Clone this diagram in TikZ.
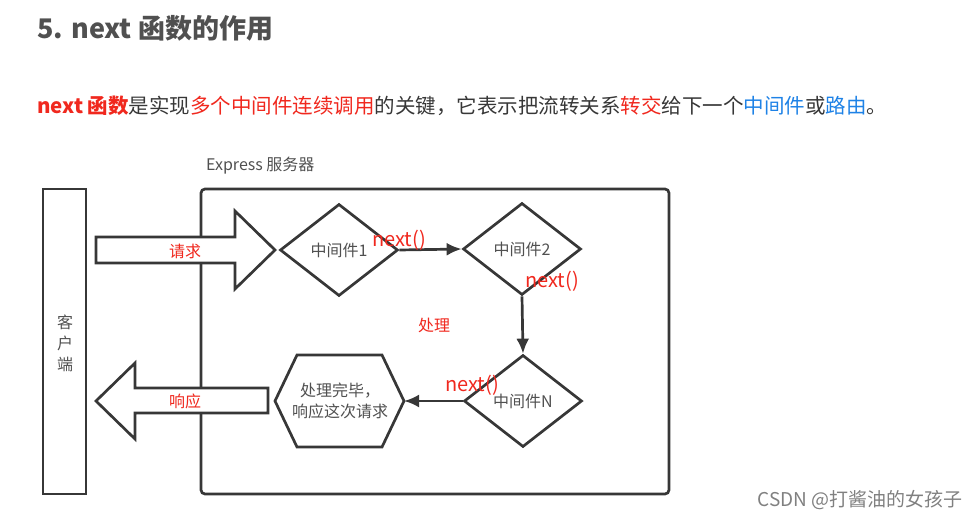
\documentclass[tikz,border=0pt]{standalone}
\usepackage{fontspec}
\setmainfont{Noto Sans CJK SC}
\usetikzlibrary{shapes.geometric,arrows.meta}
\definecolor{hired}{RGB}{240,40,30}
\definecolor{hiblue}{RGB}{30,130,230}
\definecolor{ink}{RGB}{55,55,55}
\definecolor{graytxt}{RGB}{80,80,80}
\tikzset{
  box/.style={draw=ink,line width=2.7pt},
  mid/.style={draw=ink,line width=2.7pt,shape=diamond,inner sep=0pt,
    minimum width=118pt,minimum height=92pt,aspect=1.28,
    font=\fontsize{16}{19}\selectfont,text=graytxt},
  flow/.style={draw=ink,line width=2.7pt,-{Latex[length=15pt,width=13pt]}},
  nxt/.style={text=hired,font=\fontsize{20}{22}\selectfont,inner sep=0pt},
  lbl/.style={text=hired,font=\fontsize{16}{19}\selectfont,inner sep=0pt},
  plain/.style={text=graytxt,font=\fontsize{16}{21}\selectfont,inner sep=0pt},
}
\begin{document}
\begin{tikzpicture}[x=1pt,y=-1pt]
  \useasboundingbox (0,0) rectangle (980,519);
  % heading and intro line
  \node[anchor=west,inner sep=0pt,text=graytxt,font=\fontsize{27}{30}\selectfont\bfseries] (title) at (37,28) {5. next 函数的作用};
  \node[anchor=west,inner sep=0pt,text=ink,font=\fontsize{20.5}{24}\selectfont] (intro) at (37,106)
    {\textcolor{hired}{\bfseries next 函数}是实现\textcolor{hired}{多个中间件连续调用}的关键，它表示把流转关系\textcolor{hired}{转交}给下一个\textcolor{hiblue}{中间件}或\textcolor{hiblue}{路由}。};

  % client and server
  \draw[box] (43,189) rectangle (86,494);
  \node[plain,align=center] (client) at (65,343) {客\\户\\端};
  \draw[box,rounded corners=4pt] (201,189) rectangle (669,494);
  \node[plain,anchor=west] (server) at (206,166) {Express 服务器};

  % request / response
  \draw[box,fill=white] (96,237) -- (235,237) -- (235,211) -- (275,250)
    -- (235,289) -- (235,263) -- (96,263) -- cycle;
  \node[lbl] (req) at (185,251) {请求};
  \draw[box,fill=white] (268,388) -- (135,388) -- (135,363) -- (96,401)
    -- (135,439) -- (135,413) -- (268,413) -- cycle;
  \node[lbl] (resp) at (185,401) {响应};

  % middleware chain
  \node[mid] (m1) at (339,250) {中间件1};
  \node[mid] (m2) at (522,249) {中间件2};
  \node[mid] (mN) at (523,401) {中间件N};
  \draw[box] (275,401) -- (297,355) -- (382,355) -- (404,401) -- (382,447) -- (297,447) -- cycle;
  \coordinate (hexR) at (404,401);
  \node[plain,align=center] (done) at (340,401) {处理完毕，\\响应这次请求};
  \draw[flow] (m1.east) -- (m2.west);
  \draw[flow] (m2.south) -- (mN.north);
  \draw[flow] (mN.west) -- (hexR);
  \node[nxt] at (399,240) {next()};
  \node[nxt] at (552,281) {next()};
  \node[nxt] at (472,385) {next()};
  \node[lbl] (proc) at (434,325) {处理};

  \node[text=gray,font=\fontsize{19}{22}\selectfont,inner sep=0pt] (mark) at (860,500) {CSDN @打酱油的女孩子};
\end{tikzpicture}
\end{document}
